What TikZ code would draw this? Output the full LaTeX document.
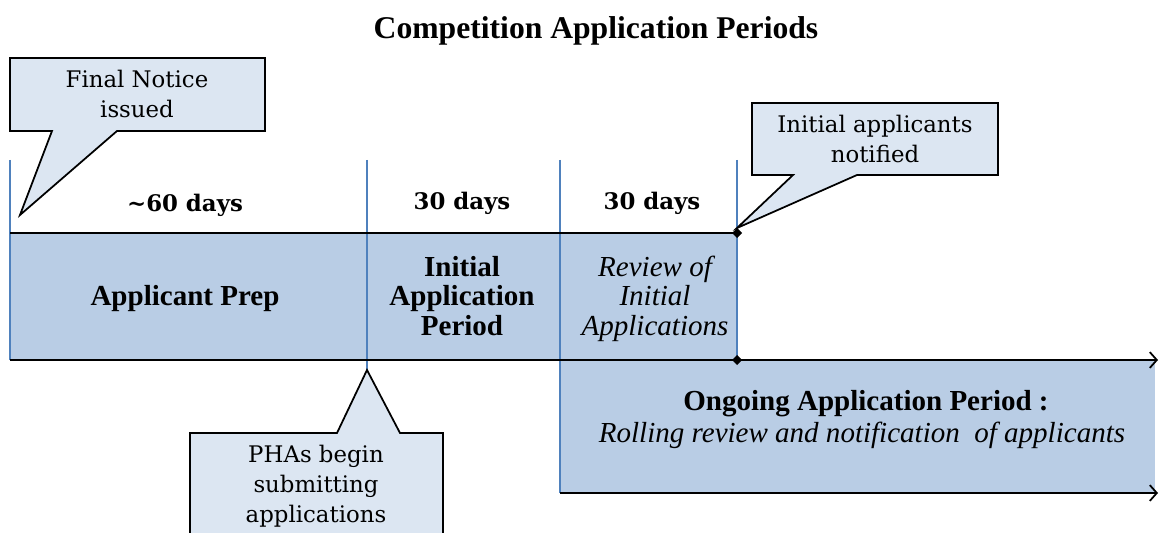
\documentclass[tikz,border=0pt]{standalone}
\usepackage{fontspec}
\setmainfont{Liberation Serif}
\newfontfamily\notefont{DejaVu Serif}
\usetikzlibrary{arrows.meta}

\definecolor{bandblue}{HTML}{B9CDE5}
\definecolor{noteblue}{HTML}{DCE6F2}
\definecolor{tickblue}{HTML}{4F81BD}

% band text, set at 14pt and enlarged
\newcommand{\bandtext}[1]{\scalebox{1.18}{\begin{tabular}{@{}c@{}}#1\end{tabular}}}

\begin{document}
\begin{tikzpicture}[
            x=0.02cm, y=-0.02cm,
            band/.style={fill=bandblue},
            time line/.style={line width=1pt, -{Straight Barb[length=4pt, width=9pt]}},
            edge line/.style={line width=1pt},
            marker/.style={thick, color=tickblue},
            callout/.style={line width=1pt, fill=noteblue, line join=miter},
            days/.style={font=\notefont\bfseries\fontsize{13}{15}\selectfont},
            period/.style={font=\bfseries\fontsize{14}{14.4}\selectfont},
            review/.style={font=\itshape\fontsize{14}{14.4}\selectfont},
            note/.style={font=\notefont\fontsize{13}{17}\selectfont, align=center},
            every node/.style={color=black, inner sep=0pt}
            ]
            \clip (0,0) rectangle (1159,533);

            \node[font=\bfseries\fontsize{18}{22}\selectfont] (title) at (596,31) {Competition Application Periods};

            % time points
            \coordinate (notice tip) at (20,215);
            \coordinate (start) at (10,360);
            \coordinate (open) at (367,360);
            \coordinate (close) at (560,360);
            \coordinate (review end) at (737,360);
            \coordinate (top end) at (737,233);
            \coordinate (end) at (1158,360);

            % bands
            \fill[band] (10,233) rectangle (review end);
            \fill[band] (close) rectangle (1155,493);

            % markers
            \draw[marker] (10,160) -- (start);
            \draw[marker] (367,160) -- (367,370);
            \draw[marker] (560,160) -- (560,493);
            \draw[marker] (737,160) -- (review end);

            % time lines
            \draw[edge line] (10,233) -- (top end);
            \draw[time line] (start) -- (end);
            \draw[time line] (560,493) -- (1158,493);

            \foreach \y in {233,360}
                \fill (737,\y) +(-5,0) -- +(0,-5) -- +(5,0) -- +(0,5) -- cycle;

            \node[days] (days60) at (185,205) {\char`~60 days};
            \node[days] (days30a) at (462,203) {30 days};
            \node[days] (days30b) at (652,203) {30 days};

            \node[period] (prep) at (185,300) {\bandtext{Applicant Prep}};
            \node[period] (initial) at (462,300) {\bandtext{Initial\\Application\\Period}};
            \node[review] (review) at (655,300) {\bandtext{Review of\\Initial\\Applications}};
            \node[period] (ongoing) at (866,405) {\bandtext{Ongoing Application Period :}};
            \node[review] (rolling) at (862,437) {\bandtext{Rolling review and notification \ of applicants}};

            % callouts
            \draw[callout] (10,58) -- (265,58) -- (265,131) -- (117,131) -- (notice tip) -- (52,131) -- (10,131) -- cycle;
            \node[note] (notice) at (137,94) {Final Notice\\issued};

            \draw[callout] (752,103) -- (998,103) -- (998,175) -- (857,175) -- (737,228) -- (793,175) -- (752,175) -- cycle;
            \node[note] (notified) at (875,139) {Initial applicants\\notified};

            \draw[callout] (190,433) -- (337,433) -- (367,370) -- (400,433) -- (443,433) -- (443,560) -- (190,560) -- cycle;
            \node[note] (submit) at (316,486) {PHAs begin\\submitting\\applications};

        \end{tikzpicture}
\end{document}
